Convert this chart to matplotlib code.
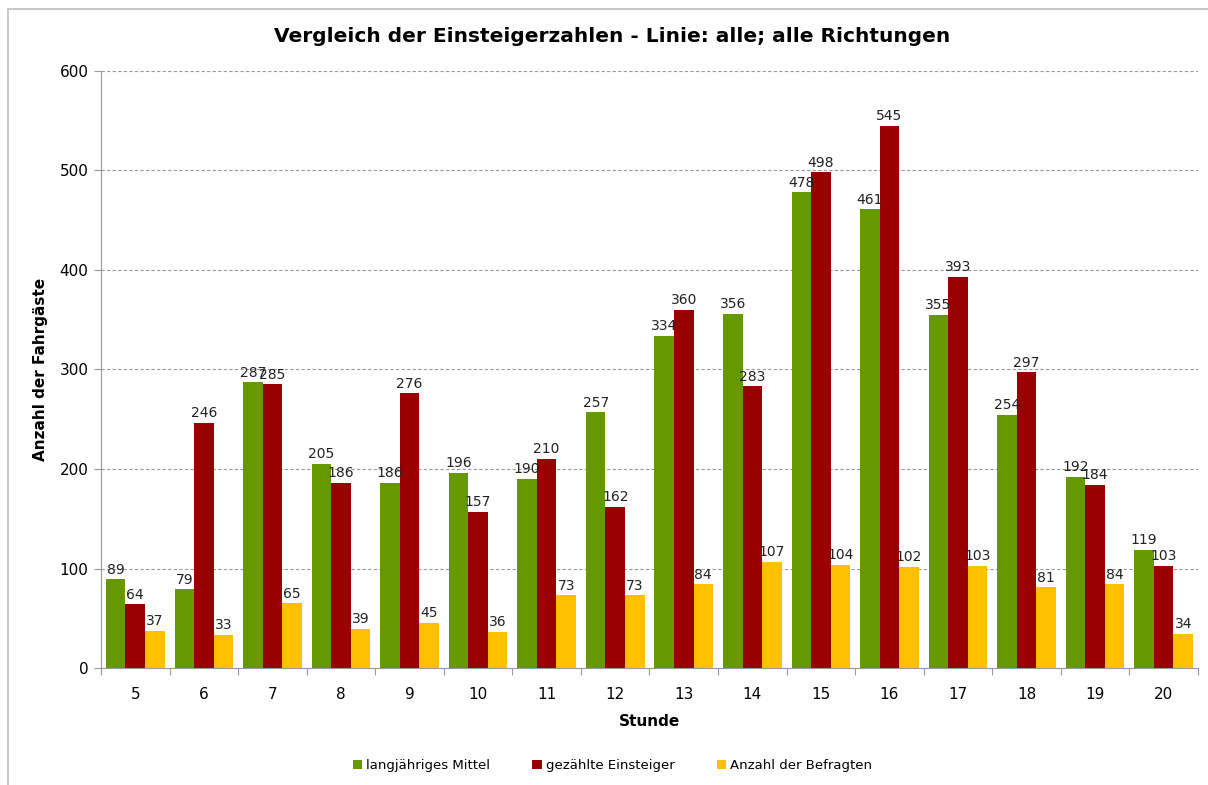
import numpy as np
import matplotlib.pyplot as plt
from matplotlib.lines import Line2D

# Data
stunden = ["5", "6", "7", "8", "9", "10", "11", "12", "13", "14", "15", "16", "17", "18", "19", "20"]
mittel = [89, 79, 287, 205, 186, 196, 190, 257, 334, 356, 478, 461, 355, 254, 192, 119]
gezaehlt = [64, 246, 285, 186, 276, 157, 210, 162, 360, 283, 498, 545, 393, 297, 184, 103]
befragt = [37, 33, 65, 39, 45, 36, 73, 73, 84, 107, 104, 102, 103, 81, 84, 34]

series = [
    ("langjähriges Mittel", mittel, "#669900"),
    ("gezählte Einsteiger", gezaehlt, "#990000"),
    ("Anzahl der Befragten", befragt, "#FFC000"),
]

plt.rcParams['font.family'] = ['DejaVu Sans']

fig = plt.figure(figsize=(12.08, 7.85), dpi=100)
ax = fig.add_axes([0.0836, 0.149, 0.9081, 0.7606])

x = np.arange(len(stunden))
w = 0.285
for i, (name, vals, col) in enumerate(series):
    pos = x + (i - 1) * w
    bars = ax.bar(pos, vals, width=w, color=col, label=name, zorder=3)
    for b, v in zip(bars, vals):
        ax.annotate(str(v), (b.get_x() + b.get_width() / 2, v), xytext=(0, 2),
                    textcoords="offset points", ha="center", va="bottom",
                    fontsize=10, color="#222222", zorder=4)

ax.set_xlim(-0.5, len(stunden) - 0.5)
ax.set_ylim(0, 600)
ax.set_yticks(range(0, 601, 100))
ax.yaxis.grid(True, linestyle=(0, (3, 2)), color="#999999", linewidth=0.8, zorder=0)

ax.set_xticks(np.arange(-0.5, len(stunden), 1))
ax.set_xticklabels([])
ax.set_xticks(x, minor=True)
ax.set_xticklabels(stunden, minor=True)
ax.tick_params(axis="x", which="major", length=5, color="#999999", direction="out")
ax.tick_params(axis="x", which="minor", length=0, labelsize=11, pad=14)
ax.tick_params(axis="y", length=5, color="#999999", labelsize=11, pad=4)

for s in ["top", "right"]:
    ax.spines[s].set_visible(False)
for s in ["left", "bottom"]:
    ax.spines[s].set_color("#999999")

ax.set_xlabel("Stunde", fontsize=11, fontweight="bold", labelpad=8)
ax.set_ylabel("Anzahl der Fahrgäste", fontsize=11, fontweight="bold", labelpad=8)
fig.text(0.507, 0.953, "Vergleich der Einsteigerzahlen - Linie: alle; alle Richtungen",
         ha="center", va="center", fontsize=14.5, fontweight="bold")

fig.legend(loc="center", bbox_to_anchor=(0.507, 0.025), ncol=3, frameon=False,
           fontsize=9.5, handlelength=0.7, handleheight=0.7, handletextpad=0.3,
           columnspacing=3.2)

# outer chart border
fig.add_artist(Line2D([0.0066, 0.0066, 1.0], [0.0, 0.989, 0.989],
                      transform=fig.transFigure, color="#c8c8c8", linewidth=1.5))

fig.savefig("out.png", dpi=100)
